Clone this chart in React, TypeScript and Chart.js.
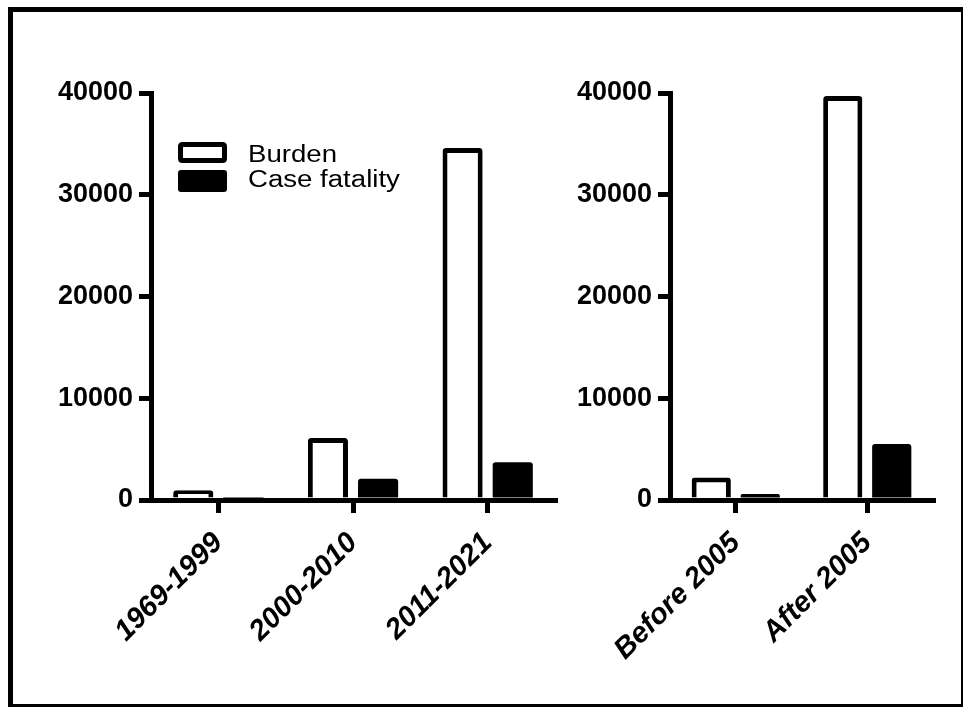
import React, { useEffect, useRef } from 'react';
import { Chart, registerables } from 'chart.js';

Chart.register(...registerables);

const leftCategories = ['1969-1999', '2000-2010', '2011-2021'];
const leftBurden = [950, 6100, 34600];
const leftCaseFatality = [150, 2100, 3700];
const rightCategories = ['Before 2005', 'After 2005'];
const rightBurden = [2200, 39700];
const rightCaseFatality = [600, 5500];
const yTickValues = [0, 10000, 20000, 30000, 40000];
const seriesNames = ['Burden', 'Case fatality'];

const FONT = '"Liberation Sans", Arial, Helvetica, sans-serif';

function roundRectPath(ctx: CanvasRenderingContext2D, x: number, y: number, w: number, h: number, r: number) {
  ctx.beginPath();
  ctx.moveTo(x + r, y);
  ctx.lineTo(x + w - r, y);
  ctx.quadraticCurveTo(x + w, y, x + w, y + r);
  ctx.lineTo(x + w, y + h - r);
  ctx.quadraticCurveTo(x + w, y + h, x + w - r, y + h);
  ctx.lineTo(x + r, y + h);
  ctx.quadraticCurveTo(x, y + h, x, y + h - r);
  ctx.lineTo(x, y + r);
  ctx.quadraticCurveTo(x, y, x + r, y);
  ctx.closePath();
}

const legendPlugin = {
  id: 'customLegend',
  afterDraw(chart: any) {
    const { ctx, chartArea } = chart;
    const ds = chart.data.datasets;
    const bx = chartArea.left + 27;
    const by = chartArea.top + 49;
    ctx.save();
    ctx.lineWidth = 5;
    ctx.strokeStyle = ds[0].borderColor;
    ctx.fillStyle = ds[0].backgroundColor;
    roundRectPath(ctx, bx + 2.5, by + 2.5, 44, 16, 2);
    ctx.fill();
    ctx.stroke();
    ctx.fillStyle = ds[1].backgroundColor;
    roundRectPath(ctx, bx, by + 28, 49, 22, 3);
    ctx.fill();
    ctx.fillStyle = '#000';
    ctx.font = `23px ${FONT}`;
    ctx.textAlign = 'left';
    ctx.textBaseline = 'alphabetic';
    const tx = chartArea.left + 97;
    const rows = [chartArea.top + 69, chartArea.top + 94];
    rows.forEach((ty, i) => {
      ctx.save();
      ctx.translate(tx, ty);
      ctx.scale(1.2, 1);
      ctx.fillText(ds[i].label, 0, 0);
      ctx.restore();
    });
    ctx.restore();
  },
};

function makeConfig(
  labels: string[],
  burden: number[],
  caseFatality: number[],
  yAxisWidth: number,
  padRight: number,
  withLegend: boolean
): any {
  const axisGrid = {
    display: true,
    drawOnChartArea: false,
    drawTicks: true,
    lineWidth: 5,
    color: '#000',
  };
  const axisBorder = { display: true, color: '#000', width: 5, z: 1 };
  return {
    type: 'bar',
    data: {
      labels,
      datasets: [
        {
          label: seriesNames[0],
          data: burden,
          backgroundColor: '#ffffff',
          borderColor: '#000000',
          borderWidth: 5,
          borderRadius: 3,
          borderSkipped: 'start',
          barPercentage: 0.8,
          categoryPercentage: 0.745,
        },
        {
          label: seriesNames[1],
          data: caseFatality,
          backgroundColor: '#000000',
          borderColor: '#000000',
          borderWidth: 0,
          borderRadius: 3,
          borderSkipped: 'start',
          barPercentage: 0.8,
          categoryPercentage: 0.745,
        },
      ],
    },
    options: {
      responsive: false,
      maintainAspectRatio: false,
      animation: false,
      layout: { padding: { top: 73, right: padRight, bottom: 0, left: 0 } },
      plugins: { legend: { display: false }, tooltip: { enabled: false } },
      scales: {
        x: {
          offset: true,
          grid: { ...axisGrid, offset: false, tickLength: 13 },
          border: axisBorder,
          ticks: {
            color: '#000',
            font: { family: FONT, size: 29, weight: 'bold', style: 'italic' },
            minRotation: 45,
            maxRotation: 45,
            autoSkip: false,
            padding: 13,
          },
          afterFit: (s: any) => {
            s.height = 200;
          },
        },
        y: {
          min: 0,
          max: 40000,
          afterBuildTicks: (s: any) => {
            s.ticks = yTickValues.map((v) => ({ value: v }));
          },
          grid: { ...axisGrid, tickLength: 12 },
          border: axisBorder,
          ticks: {
            color: '#000',
            font: { family: FONT, size: 27, weight: 'bold' },
            padding: 6,
            callback: (v: any) => String(v),
          },
          afterFit: (s: any) => {
            s.width = yAxisWidth;
          },
        },
      },
    },
    plugins: withLegend ? [legendPlugin] : [],
  };
}

export default function App() {
  const leftRef = useRef<HTMLCanvasElement | null>(null);
  const rightRef = useRef<HTMLCanvasElement | null>(null);

  useEffect(() => {
    const charts: Chart[] = [];
    if (leftRef.current) {
      charts.push(
        new Chart(leftRef.current, makeConfig(leftCategories, leftBurden, leftCaseFatality, 131, 10, true))
      );
    }
    if (rightRef.current) {
      charts.push(
        new Chart(rightRef.current, makeConfig(rightCategories, rightBurden, rightCaseFatality, 110, 27, false))
      );
    }
    return () => charts.forEach((c) => c.destroy());
  }, []);

  return (
    <div
      style={{
        position: 'absolute',
        left: 0,
        top: 0,
        width: 966,
        height: 709,
        background: '#fff',
        overflow: 'hidden',
      }}
    >
      <div
        style={{
          position: 'absolute',
          left: 8,
          top: 7,
          width: 955,
          height: 700,
          boxSizing: 'border-box',
          borderLeft: '5px solid #000',
          borderTop: '5px solid #000',
          borderRight: '2px solid #000',
          borderBottom: '3px solid #000',
        }}
      />
      <canvas
        ref={leftRef}
        width={545}
        height={680}
        style={{ position: 'absolute', left: 20, top: 20, width: 545, height: 680 }}
      />
      <canvas
        ref={rightRef}
        width={400}
        height={680}
        style={{ position: 'absolute', left: 560, top: 20, width: 400, height: 680 }}
      />
    </div>
  );
}
